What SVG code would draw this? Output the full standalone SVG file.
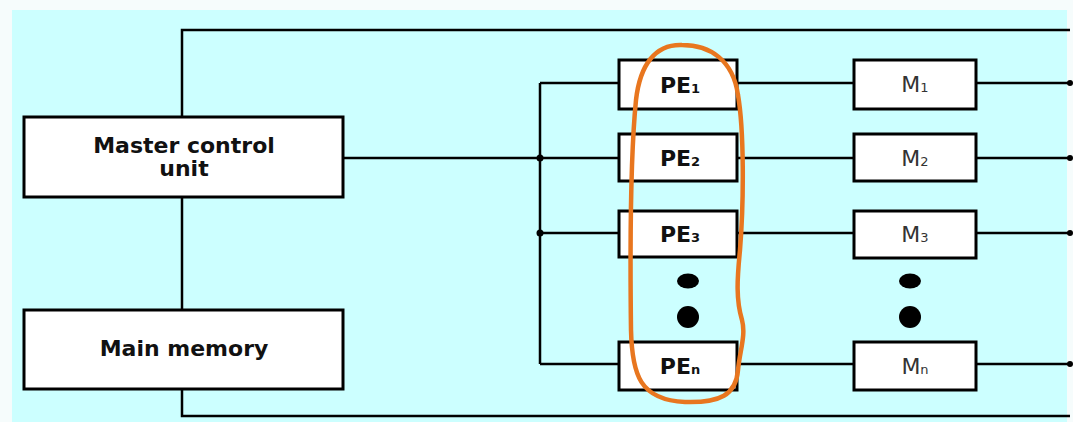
<svg xmlns="http://www.w3.org/2000/svg" width="1073" height="422" viewBox="0 0 1073 422">
<style>
.box{fill:#ffffff;stroke:#000000;stroke-width:3}
.ln{fill:none;stroke:#000000;stroke-width:2.5}
.lbl{font-family:"DejaVu Sans",Verdana,sans-serif;font-weight:bold;font-size:22px;fill:#111111;text-anchor:middle}
.mlbl{font-family:"DejaVu Sans",Verdana,sans-serif;font-size:22px;fill:#333333;text-anchor:middle}
.sub{font-size:13px}
.jd{fill:#000000}
</style>
<rect x="0" y="0" width="1073" height="422" fill="#f6fcfc"/>
<rect x="12" y="10" width="1055" height="412" fill="#ccffff"/>
<g id="connectors">
<path class="ln" d="M182,117 V30 H1070"/>
<path class="ln" d="M182,197 V310"/>
<path class="ln" d="M182,389 V416 H1070"/>
<path class="ln" d="M343,158 H619"/>
<path class="ln" d="M540,83 V364"/>
<path class="ln" d="M540,83 H619"/>
<path class="ln" d="M540,233 H619"/>
<path class="ln" d="M540,364 H619"/>
<path class="ln" d="M737,83 H854"/>
<path class="ln" d="M737,158 H854"/>
<path class="ln" d="M737,233 H854"/>
<path class="ln" d="M737,364 H854"/>
<path class="ln" d="M976,83 H1070"/>
<path class="ln" d="M976,158 H1070"/>
<path class="ln" d="M976,233 H1070"/>
<path class="ln" d="M976,364 H1070"/>
<circle class="jd" cx="540" cy="158" r="3.5"/>
<circle class="jd" cx="540" cy="233" r="3.5"/>
<circle class="jd" cx="1070" cy="83" r="3"/>
<circle class="jd" cx="1070" cy="158" r="3"/>
<circle class="jd" cx="1070" cy="233" r="3"/>
<circle class="jd" cx="1070" cy="364" r="3"/>
</g>
<g id="master">
<rect class="box" x="24" y="117" width="319" height="80"/>
<text class="lbl" x="184" y="153">Master control</text>
<text class="lbl" x="184" y="176">unit</text>
</g>
<g id="mainmem">
<rect class="box" x="24" y="310" width="319" height="79"/>
<text class="lbl" x="184" y="356">Main memory</text>
</g>
<g id="pe1"><rect class="box" x="619" y="60" width="118" height="49"/><text class="lbl" x="680" y="93">PE<tspan class="sub">1</tspan></text></g>
<g id="pe2"><rect class="box" x="619" y="134" width="118" height="47"/><text class="lbl" x="680" y="166">PE<tspan class="sub">2</tspan></text></g>
<g id="pe3"><rect class="box" x="619" y="211" width="118" height="46"/><text class="lbl" x="680" y="242">PE<tspan class="sub">3</tspan></text></g>
<g id="pen"><rect class="box" x="619" y="342" width="118" height="48"/><text class="lbl" x="680" y="374">PE<tspan class="sub">n</tspan></text></g>
<g id="m1"><rect class="box" x="854" y="60" width="122" height="49"/><text class="mlbl" x="915" y="92">M<tspan class="sub">1</tspan></text></g>
<g id="m2"><rect class="box" x="854" y="134" width="122" height="47"/><text class="mlbl" x="915" y="166">M<tspan class="sub">2</tspan></text></g>
<g id="m3"><rect class="box" x="854" y="211" width="122" height="47"/><text class="mlbl" x="915" y="242">M<tspan class="sub">3</tspan></text></g>
<g id="mn"><rect class="box" x="854" y="342" width="122" height="48"/><text class="mlbl" x="915" y="374">M<tspan class="sub">n</tspan></text></g>
<g id="pe-dots">
<ellipse cx="688" cy="281" rx="11" ry="7.5"/>
<circle cx="688" cy="317" r="11"/>
</g>
<g id="m-dots">
<ellipse cx="910" cy="281" rx="11" ry="7.5"/>
<circle cx="910" cy="317" r="11"/>
</g>
<g id="highlight">
<path d="M682,45 C655,44 640,65 636,100 C631,150 630,250 631,330 C632,375 640,400 685,402 C720,403 736,395 738,370 C740,350 746,335 742,320 C736,300 737,280 740,250 C744,200 744,130 738,95 C733,60 710,45 682,45 Z" fill="none" stroke="#e8761f" stroke-width="4.5"/>
</g>
</svg>
